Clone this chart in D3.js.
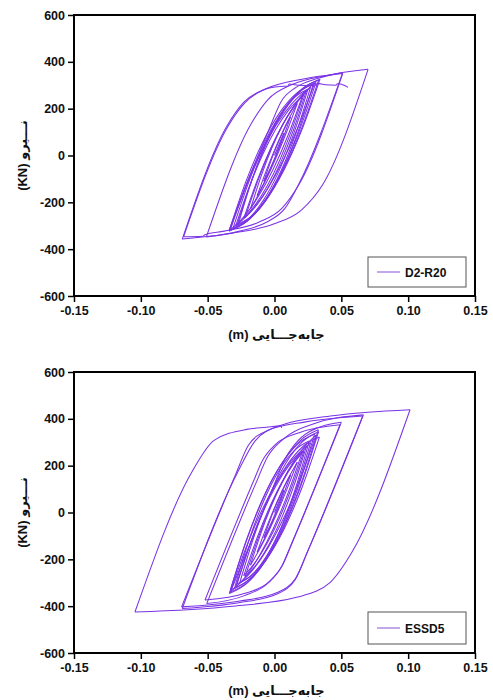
<!DOCTYPE html>
<html>
<head>
<meta charset="utf-8">
<script src="https://cdn.jsdelivr.net/npm/d3@7"></script>
<style>
  html, body { margin: 0; padding: 0; background: #ffffff; }
  svg { display: block; }
</style>
</head>
<body>
<svg id="chart" width="493" height="700"></svg>
<script>
// ---------- DATA ----------
const xTicks = [-0.15, -0.10, -0.05, 0.00, 0.05, 0.10, 0.15];
const yTicks = [-600, -400, -200, 0, 200, 400, 600];
const xTitle = "(m) جابه‌جـــایی";
const yTitle = "(KN) نـــیرو";
const seriesNames = ["D2-R20", "ESSD5"];

// D2-R20 : displacement (m), force (kN) along the recorded path
const d2r20 = [
  [0,0],[0.0045,62],[0.007,95],
  [0.004,45.8],[0.001,0.7],[-0.002,-40.3],[-0.005,-77.2],[-0.008,-110],
  [-0.004,-44],[0.000,16.5],[0.004,71.5],[0.008,121],[0.012,165],
  [0.007,84.1],[0.002,10],[-0.003,-57.4],[-0.008,-118.1],[-0.013,-172],
  [-0.007,-77.4],[-0.001,9.2],[0.005,88],[0.011,159],[0.017,222],
  [0.010,114],[0.003,15],[-0.004,-75],[-0.011,-156],[-0.018,-228],
  [-0.010,-87.9],[-0.002,31.7],[0.006,129.7],[0.014,206.1],[0.022,262],
  [0.013,110.4],[0.004,-18.9],[-0.005,-124.9],[-0.014,-207.6],[-0.023,-268],
  [-0.013,-107.8],[-0.003,28.8],[0.007,140.8],[0.017,228.2],[0.027,292],
  [0.016,93.8],[0.005,-64.4],[-0.006,-182.4],[-0.017,-260.2],[-0.028,-298],
  [-0.0162,-93],[-0.0044,70.4],[0.0074,192.4],[0.0192,273],[0.031,312],
  [0.0182,100.3],[0.0054,-68.5],[-0.0074,-194.5],[-0.0202,-277.7],[-0.033,-318],
  [-0.0196,-101.6],[-0.0062,71],[0.0072,199.8],[0.0206,284.8],[0.034,326],
  [0.0204,108.3],[0.0068,-65.4],[-0.0068,-195],[-0.0204,-280.5],[-0.034,-322],
  [-0.0214,-111.3],[-0.0088,56.7],[0.0038,182.1],[0.0164,264.9],[0.029,305],
  [0.0178,104.4],[0.0066,-55.6],[-0.0046,-175],[-0.0158,-253.8],[-0.027,-292],
  [-0.0166,-98.8],[-0.0062,55.3],[0.0042,170.3],[0.0146,246.2],[0.025,283],
  [0.0138,83.8],[0.0026,-75.2],[-0.0086,-193.8],[-0.0198,-272],[-0.031,-310],
  [-0.0182,-97.6],[-0.0054,71.7],[0.0074,198.1],[0.0202,281.6],[0.033,322],
  [0.0196,105.6],[0.0062,-67],[-0.0072,-195.8],[-0.0206,-280.8],[-0.034,-322],
  [-0.0224,-143.8],[-0.0108,5.5],[0.0008,125.9],[0.0124,217.4],[0.024,280],
  [0.0148,118.7],[0.0056,-16.5],[-0.0036,-125.5],[-0.0128,-208.3],[-0.022,-265],
  [-0.0116,-94.8],[-0.0012,47.8],[0.0092,162.8],[0.0196,250.2],[0.030,310],
  [0.0182,129.4],[0.0064,-21.8],[-0.0054,-143.8],[-0.0172,-236.6],[-0.029,-300],
  [-0.019,-135.7],[-0.009,1.9],[0.001,112.9],[0.011,197.3],[0.021,255],
  [0.010,84.2],[-0.001,-58.9],[-0.012,-174.3],[-0.023,-262],[-0.034,-322],
  [-0.0032,124],[0.0049,230],[0.0158,290],[0.0321,329],[0.051,354],
  [0.0182,-122],[0.0078,-226],[-0.0060,-285],[-0.0268,-324],[-0.051,-348],
  [-0.0181,129],[-0.0049,239],[0.0127,302],[0.0392,342],[0.070,368],
  [0.0360,-125],[0.0203,-232],[-0.0007,-293],[-0.0322,-332],[-0.069,-357],
  [-0.0359,123],[-0.0229,228],[-0.0055,287],[0.0206,326],[0.051,350],
  [0.0185,-122],[0.0055,-226],[-0.0118,-285],[-0.0377,-323],[-0.052,-338],[-0.0535,-345],[-0.068,-347],
  [-0.0353,120],[-0.0222,225],[-0.009,278],[-0.003,289],[0.004,295],[0.010,296],[0.011,305],
  [0.018,300],[0.025,298],[0.031,300],[0.032,308],[0.038,302],[0.046,300],[0.047,306],[0.052,300],[0.055,291]
];

// ESSD5 : displacement (m), force (kN) along the recorded path
const essd5 = [
  [0,0],[0.0035,49],[0.007,95],
  [0.004,46.3],[0.001,1.6],[-0.002,-39],[-0.005,-75.5],[-0.008,-108],
  [-0.004,-43.7],[0.000,15.3],[0.004,68.9],[0.008,117.1],[0.012,160],
  [0.007,80.8],[0.002,8.2],[-0.003,-57.8],[-0.008,-117.2],[-0.013,-170],
  [-0.007,-77.6],[-0.001,7.1],[0.005,84.1],[0.011,153.4],[0.017,215],
  [0.010,109.4],[0.003,12.6],[-0.004,-75.4],[-0.011,-154.6],[-0.018,-225],
  [-0.010,-85.7],[-0.002,33.1],[0.006,130.5],[0.014,206.5],[0.022,262],
  [0.013,109.8],[0.004,-20],[-0.005,-126.4],[-0.014,-209.4],[-0.023,-270],
  [-0.013,-107.6],[-0.003,31],[0.007,144.6],[0.017,233.2],[0.027,298],
  [0.016,95.4],[0.005,-66.2],[-0.006,-186.8],[-0.017,-266.4],[-0.028,-305],
  [-0.0157,-94.3],[-0.0034,73.7],[0.0090,199.1],[0.0213,281.9],[0.0336,322],
  [0.0203,102.6],[0.0070,-72.4],[-0.0064,-203],[-0.0197,-289.2],[-0.033,-331],
  [-0.0198,-101.2],[-0.0067,82.1],[0.0065,218.9],[0.0196,309.2],[0.0328,353],
  [0.0195,118.1],[0.0062,-69.2],[-0.0072,-209],[-0.0205,-301.3],[-0.0338,-346],
  [-0.0210,-117.2],[-0.0083,65.3],[0.0045,201.5],[0.0172,291.4],[0.030,335],
  [0.018,113.2],[0.006,-63.6],[-0.006,-195.6],[-0.018,-282.8],[-0.030,-325],
  [-0.0188,-113.3],[-0.0076,55.5],[0.0036,181.5],[0.0148,264.7],[0.026,305],
  [0.0156,101.7],[0.0052,-60.4],[-0.0052,-181.4],[-0.0156,-261.3],[-0.026,-300],
  [-0.0142,-83.3],[-0.0024,89.6],[0.0094,218.6],[0.0212,303.7],[0.033,345],
  [0.0198,114.8],[0.0066,-68.7],[-0.0066,-205.7],[-0.0198,-296.2],[-0.033,-340],
  [-0.0216,-155],[-0.0102,0],[0.0012,125],[0.0126,220],[0.024,285],
  [0.0148,119.2],[0.0056,-19.6],[-0.0036,-131.6],[-0.0128,-216.8],[-0.022,-275],
  [-0.0114,-95.9],[-0.0008,54.1],[0.0098,175.1],[0.0204,267.1],[0.031,330],
  [0.019,138.2],[0.007,-22.5],[-0.005,-152.1],[-0.017,-250.6],[-0.029,-318],
  [-0.019,-146.3],[-0.009,-2.5],[0.001,113.5],[0.011,201.7],[0.021,262],
  [0.0102,83.8],[-0.0006,-65.5],[-0.0114,-185.9],[-0.0222,-277.4],[-0.033,-340],
  [0.0009,135],[0.0075,225],[0.0150,290],[0.0260,345],[0.050,385],
  [0.0131,-131],[0.0060,-225],[-0.0040,-295],[-0.0220,-345],[-0.052,-374],
  [-0.0159,131],[-0.0090,222],[0.0010,292],[0.0190,342],[0.049,375],
  [0.0125,-136],[0.0055,-228],[-0.0045,-300],[-0.0225,-355],[-0.0507,-389],
  [-0.0143,120],[-0.0050,240],[0.0080,320],[0.0300,380],[0.0665,417],
  [0.0252,-161],[0.0157,-282],[0.0015,-343],[-0.0269,-379],[-0.0695,-403],
  [-0.0289,165],[-0.0194,288],[-0.0052,350],[0.0233,387],[0.066,412],
  [0.0249,-164],[0.0155,-287],[0.0014,-349],[-0.0267,-385],[-0.069,-410],
  [-0.0272,176],[-0.0143,307],[0.0049,373],[0.0435,413],[0.1014,439],
  [0.0579,-170],[0.0417,-298],[0.0173,-361],[-0.0314,-400],[-0.1044,-425],
  [-0.0615,176],[-0.0452,308],[-0.0208,355],[-0.006,364],[0.0045,370],[0.0055,362]
];

// ---------- DRAWING ----------
const svg = d3.select("#chart");
const FONT = "'Liberation Sans', Arial, 'DejaVu Sans', sans-serif";
const lineColor = "#7a33e6";
const locale = d3.formatLocale({ decimal: ".", thousands: ",", grouping: [3], currency: ["", ""], minus: "-" });

const panels = [
  { data: d2r20, name: seriesNames[0], top: 15, bottom: 296, legY: 257, legH: 30, xTitleY: 339 },
  { data: essd5, name: seriesNames[1], top: 372, bottom: 653, legY: 612, legH: 32, xTitleY: 695 }
];
const left = 74, right = 475;

// split the recorded path into branches wherever the displacement reverses;
// each branch is returned sorted by displacement (for a monotone curve)
function branches(pts) {
  const out = [];
  let cur = [pts[0]], dir = 0;
  for (let i = 1; i < pts.length; i++) {
    const d = Math.sign(pts[i][0] - pts[i - 1][0]);
    if (dir !== 0 && d !== 0 && d !== dir) {
      out.push(cur);
      cur = [pts[i - 1]];
    }
    if (d !== 0) dir = d;
    cur.push(pts[i]);
  }
  out.push(cur);
  return out.map(b => b.slice().sort((a, c) => a[0] - c[0]));
}

panels.forEach(p => {
  const x = d3.scaleLinear().domain([-0.15, 0.15]).range([left, right]);
  const y = d3.scaleLinear().domain([-600, 600]).range([p.bottom, p.top]);
  const g = svg.append("g");

  // hysteresis curves
  const line = d3.line()
    .x(d => x(d[0])).y(d => y(d[1]))
    .curve(d3.curveMonotoneX);
  g.append("g").selectAll("path")
    .data(branches(p.data))
    .join("path")
    .attr("d", line)
    .attr("fill", "none")
    .attr("stroke", lineColor)
    .attr("stroke-width", 1.05)
    .attr("stroke-linejoin", "round");

  // axes
  const yAxis = d3.axisLeft(y).tickValues(yTicks).tickSize(6).tickPadding(3).tickFormat(locale.format("d"));
  const xAxis = d3.axisBottom(x).tickValues(xTicks).tickSize(6).tickPadding(4).tickFormat(locale.format(".2f"));
  const ya = g.append("g").attr("transform", `translate(${left},0)`).call(yAxis);
  const xa = g.append("g").attr("transform", `translate(0,${p.bottom})`).call(xAxis);
  [ya, xa].forEach(a => {
    a.select(".domain").remove();
    a.selectAll(".tick line").attr("stroke", "#000").attr("stroke-width", 1.5);
    a.selectAll(".tick text")
      .attr("fill", "#111")
      .style("font-family", FONT)
      .style("font-size", "12.5px")
      .style("font-weight", "bold");
  });

  // frame
  g.append("rect")
    .attr("x", left).attr("y", p.top)
    .attr("width", right - left).attr("height", p.bottom - p.top)
    .attr("fill", "none").attr("stroke", "#000").attr("stroke-width", 2);

  // legend
  const lg = g.append("g");
  lg.append("rect")
    .attr("x", 368).attr("y", p.legY).attr("width", 98).attr("height", p.legH)
    .attr("fill", "#fff").attr("stroke", "#555").attr("stroke-width", 1);
  const ly = p.legY + p.legH / 2;
  lg.append("line")
    .attr("x1", 377).attr("x2", 400).attr("y1", ly).attr("y2", ly)
    .attr("stroke", "#9a6fdc").attr("stroke-width", 1.2);
  lg.append("text")
    .attr("x", 405).attr("y", ly + 4.5)
    .style("font-family", FONT).style("font-size", "12px").style("font-weight", "bold")
    .attr("fill", "#111")
    .text(p.name);

  // axis titles
  g.append("text")
    .attr("x", (left + right) / 2 + 2).attr("y", p.xTitleY)
    .attr("text-anchor", "middle")
    .attr("direction", "ltr")
    .style("font-family", FONT).style("font-size", "13px").style("font-weight", "bold")
    .attr("fill", "#111")
    .text(xTitle);
  g.append("text")
    .attr("transform", `translate(27,${(p.top + p.bottom) / 2}) rotate(-90)`)
    .attr("text-anchor", "middle")
    .attr("direction", "ltr")
    .style("font-family", FONT).style("font-size", "13px").style("font-weight", "bold")
    .attr("fill", "#111")
    .text(yTitle);
});
</script>
</body>
</html>
